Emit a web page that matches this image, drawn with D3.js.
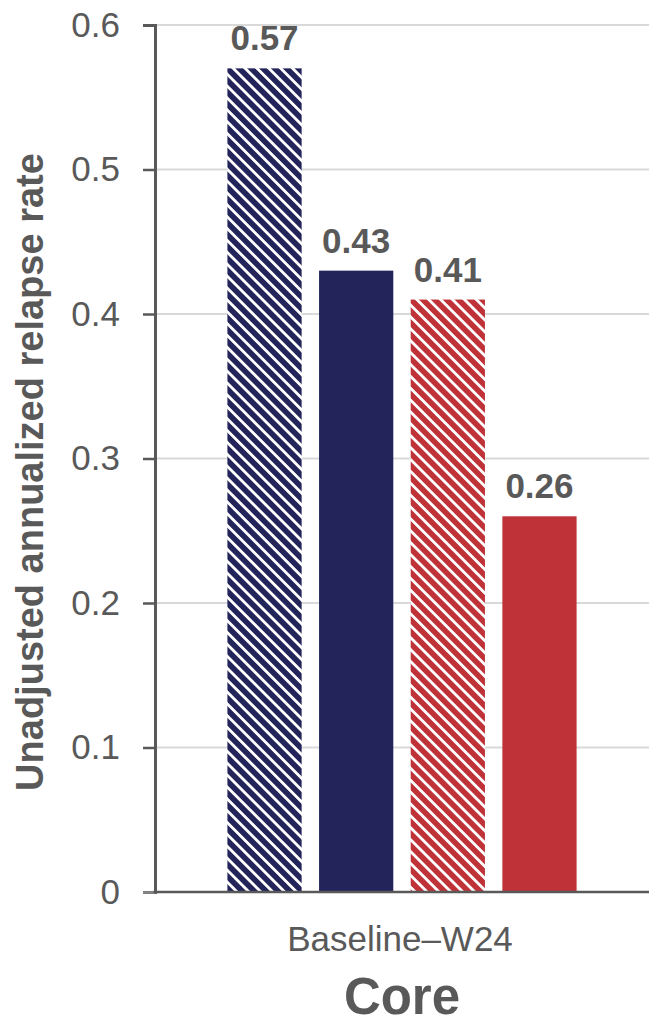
<!DOCTYPE html>
<html>
<head>
<meta charset="utf-8">
<script src="https://cdn.jsdelivr.net/npm/d3@7"></script>
<style>
  html, body { margin: 0; padding: 0; background: #fff; }
  svg { display: block; font-family: "Liberation Sans", Arial, sans-serif; }
</style>
</head>
<body>
<svg id="chart" width="649" height="1026"></svg>
<script>
// Unadjusted annualized relapse rate, Baseline–W24, four treatment groups
const categories = ["Baseline–W24"];
const groups = ["g1", "g2", "g3", "g4"];
const values = [0.57, 0.43, 0.41, 0.26];
const labels = ["0.57", "0.43", "0.41", "0.26"];
const fills = ["hatch-navy", "solid-navy", "hatch-red", "solid-red"];
const yTicks = [0, 0.1, 0.2, 0.3, 0.4, 0.5, 0.6];
const yTickLabels = ["0", "0.1", "0.2", "0.3", "0.4", "0.5", "0.6"];

const navy = "#23255a";
const red = "#bf3338";
const textGray = "#595959";

const svg = d3.select("#chart");
const plot = { left: 155, right: 649, top: 25, bottom: 892 };

const y = d3.scaleLinear().domain([0, 0.6]).range([plot.bottom, plot.top]);
const x0 = d3.scaleBand().domain(categories).range([plot.left, plot.right]).padding(0);
const x1 = d3.scaleBand().domain(groups).range([0, x0.bandwidth()])
  .paddingInner(0.19).paddingOuter(0.79);

// diagonal hatch fills
const defs = svg.append("defs");
function hatch(id, color) {
  const period = 8.4;
  const p = defs.append("pattern")
    .attr("id", id)
    .attr("patternUnits", "userSpaceOnUse")
    .attr("width", period).attr("height", period)
    .attr("patternTransform", "rotate(-45)");
  p.append("rect").attr("width", period).attr("height", period).attr("fill", "#fff");
  p.append("rect").attr("width", 5.6).attr("height", period).attr("fill", color);
}
hatch("hatch-navy", navy);
hatch("hatch-red", red);
const fillFor = f => ({
  "hatch-navy": "url(#hatch-navy)",
  "hatch-red": "url(#hatch-red)",
  "solid-navy": navy,
  "solid-red": red
})[f];

// gridlines
svg.append("g").selectAll("line")
  .data(yTicks.filter(t => t > 0))
  .join("line")
  .attr("x1", plot.left).attr("x2", plot.right)
  .attr("y1", d => y(d)).attr("y2", d => y(d))
  .attr("stroke", "#d9d9d9").attr("stroke-width", 2);

// y axis
const yAxis = d3.axisLeft(y).tickValues(yTicks)
  .tickFormat((d, i) => yTickLabels[i]).tickSize(12).tickPadding(23);
const gy = svg.append("g").attr("transform", `translate(${plot.left},0)`).call(yAxis);
gy.select(".domain").attr("stroke", textGray).attr("stroke-width", 3);
gy.selectAll(".tick line").attr("stroke", d => d === 0 ? "#8a8a8a" : textGray).attr("stroke-width", 2.5);
gy.selectAll(".tick text").attr("fill", textGray).attr("font-size", 35)
  .attr("font-family", "Liberation Sans, Arial, sans-serif");

// bars
const rows = groups.map((g, i) => ({ g, v: values[i], f: fills[i], l: labels[i] }));
const barGroup = svg.append("g").attr("transform", `translate(${x0(categories[0])},0)`);
barGroup.selectAll("rect")
  .data(rows)
  .join("rect")
  .attr("x", d => x1(d.g))
  .attr("width", x1.bandwidth())
  .attr("y", d => y(d.v))
  .attr("height", d => y(0) - y(d.v))
  .attr("fill", d => fillFor(d.f));

// value labels
barGroup.selectAll("text")
  .data(rows)
  .join("text")
  .attr("x", d => x1(d.g) + x1.bandwidth() / 2)
  .attr("y", d => y(d.v) - 18)
  .attr("text-anchor", "middle")
  .attr("font-size", 35).attr("font-weight", "bold")
  .attr("fill", textGray)
  .text(d => d.l);

// baseline
svg.append("line")
  .attr("x1", plot.left - 1.5).attr("x2", plot.right)
  .attr("y1", y(0)).attr("y2", y(0))
  .attr("stroke", textGray).attr("stroke-width", 2.7);

// category label
svg.append("text")
  .attr("x", x0(categories[0]) + x0.bandwidth() / 2 - 2)
  .attr("y", 951)
  .attr("text-anchor", "middle")
  .attr("font-size", 35).attr("fill", textGray)
  .text(categories[0]);

// x axis title
svg.append("text")
  .attr("x", x0(categories[0]) + x0.bandwidth() / 2)
  .attr("y", 1014)
  .attr("text-anchor", "middle")
  .attr("font-size", 51).attr("font-weight", "bold").attr("fill", textGray)
  .text("Core");

// y axis title
svg.append("text")
  .attr("transform", "translate(43,472) rotate(-90)")
  .attr("text-anchor", "middle")
  .attr("font-size", 38).attr("font-weight", "bold").attr("fill", textGray)
  .text("Unadjusted annualized relapse rate");
</script>
</body>
</html>
